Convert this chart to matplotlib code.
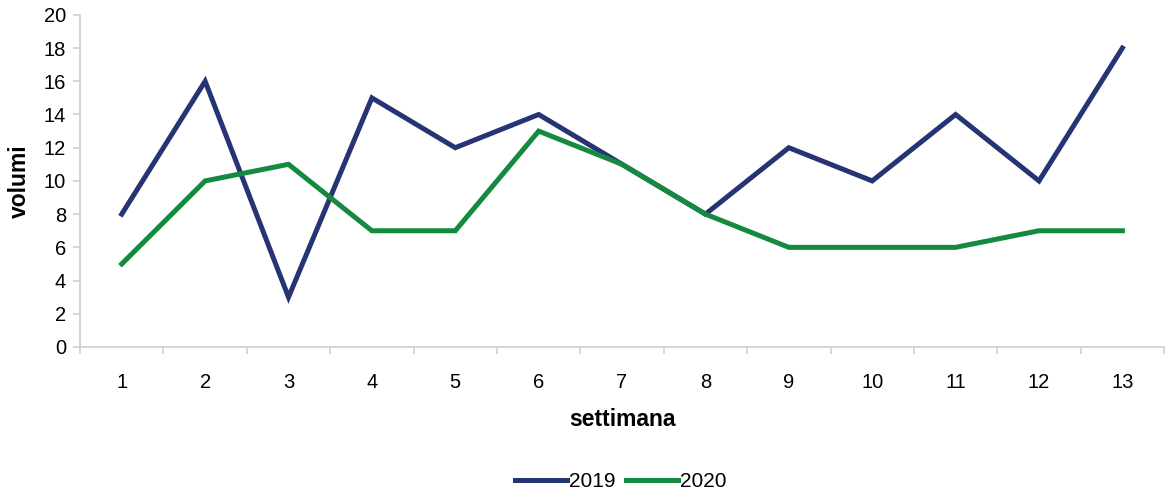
import matplotlib.pyplot as plt
import numpy as np

# weekly volumes
weeks = [str(i) for i in range(1, 14)]
vol_2019 = [8, 16, 3, 15, 12, 14, 11, 8, 12, 10, 14, 10, 18]
vol_2020 = [5, 10, 11, 7, 7, 13, 11, 8, 6, 6, 6, 7, 7]

plt.rcParams['font.family'] = ['Liberation Sans', 'DejaVu Sans']

fig = plt.figure(figsize=(11.65, 4.95), dpi=100)
ax = fig.add_axes([0.0687, 0.299, 0.9305, 0.671])

x = np.arange(1, len(weeks) + 1)
ax.plot(x, vol_2019, color='#263474', lw=3.6, label='2019', solid_joinstyle='miter')
ax.plot(x, vol_2020, color='#138a3e', lw=3.6, label='2020', solid_joinstyle='miter')

ax.set_xlim(0.5, len(weeks) + 0.5)
ax.set_ylim(0, 20)
ax.set_yticks(range(0, 21, 2))
ax.set_xticks(x)
ax.set_xticklabels(weeks)
ax.set_xticks(np.arange(0.5, len(weeks) + 1, 1), minor=True)
ax.tick_params(axis='x', which='major', length=0, pad=19, labelsize=14.5)
ax.tick_params(axis='x', which='minor', length=5, color='#d0d0d0', width=1.2)
ax.tick_params(axis='y', length=5, color='#d0d0d0', width=1.2, labelsize=14.5, pad=5)

for s in ['top', 'right']:
    ax.spines[s].set_visible(False)
for s in ['left', 'bottom']:
    ax.spines[s].set_color('#d0d0d0')
    ax.spines[s].set_linewidth(1.2)

ax.set_xlabel('settimana', fontsize=16.5, fontweight='bold', labelpad=11)
ax.set_ylabel('volumi', fontsize=16.5, fontweight='bold', labelpad=9)

fig.legend(loc='center', bbox_to_anchor=(0.533, 0.027), ncol=2, frameon=False,
           fontsize=15, handlelength=2.5, handletextpad=0.1, columnspacing=0.5)

fig.savefig('out.png', dpi=100)
